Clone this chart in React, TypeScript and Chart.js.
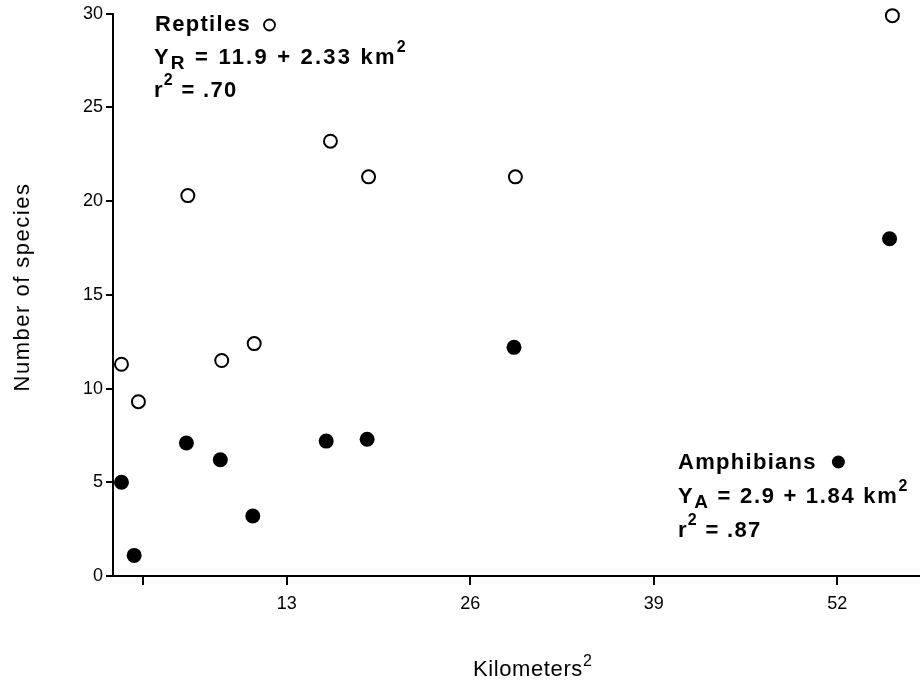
import { useEffect, useRef } from 'react';
import { Chart, registerables } from 'chart.js';

Chart.register(...registerables);

// ---- data ----
const reptileArea = [1.3, 2.5, 6.0, 8.4, 10.7, 16.1, 18.8, 29.2, 55.9];
const reptileSpecies = [11.3, 9.3, 20.3, 11.5, 12.4, 23.2, 21.3, 21.3, 29.9];
const amphibianArea = [1.3, 2.2, 5.9, 8.3, 10.6, 15.8, 18.7, 29.1, 55.7];
const amphibianSpecies = [5.0, 1.1, 7.1, 6.2, 3.2, 7.2, 7.3, 12.2, 18.0];

const xTickValues = [2.8, 13, 26, 39, 52];
const xTickLabels = ['', '13', '26', '39', '52'];
const yTickValues = [0, 5, 10, 15, 20, 25, 30];

const xAxisTitle = 'Kilometers';
const yAxisTitle = 'Number of species';
const reptileLines = { name: 'Reptiles', sub: 'R', eq: ' = 11.9 + 2.33 km', r2: ' = .70' };
const amphibianLines = { name: 'Amphibians', sub: 'A', eq: ' = 2.9 + 1.84 km', r2: ' = .87' };

const FONT = '"Liberation Sans", Arial, Helvetica, sans-serif';

type Run = { text: string; size: number; dy: number };

function drawRuns(ctx: CanvasRenderingContext2D, x: number, baseline: number, runs: Run[], weight: string) {
  let cx = x;
  for (const r of runs) {
    ctx.font = `${weight} ${r.size}px ${FONT}`;
    ctx.fillText(r.text, cx, baseline + r.dy);
    cx += ctx.measureText(r.text).width;
  }
  return cx;
}

const annotationPlugin = {
  id: 'annotations',
  afterDraw(chart: any) {
    const ctx: CanvasRenderingContext2D = chart.ctx;
    ctx.save();
    ctx.fillStyle = '#000';
    ctx.strokeStyle = '#000';
    ctx.textAlign = 'left';
    ctx.textBaseline = 'alphabetic';

    // Reptiles block
    {
      const x = 155;
      (ctx as any).letterSpacing = '1.3px';
      const end = drawRuns(ctx, x, 31, [{ text: reptileLines.name, size: 22, dy: 0 }], 'bold');
      ctx.beginPath();
      ctx.lineWidth = 1.8;
      ctx.arc(end + 13 + 5.5, 25, 5.5, 0, Math.PI * 2);
      ctx.stroke();
      (ctx as any).letterSpacing = '2.2px';
      drawRuns(ctx, x - 1, 64, [
        { text: 'Y', size: 22, dy: 0 },
        { text: reptileLines.sub, size: 19, dy: 5 },
        { text: reptileLines.eq, size: 22, dy: 0 },
        { text: '2', size: 16, dy: -12 },
      ], 'bold');
      (ctx as any).letterSpacing = '1.3px';
      drawRuns(ctx, x - 1, 97, [
        { text: 'r', size: 22, dy: 0 },
        { text: '2', size: 16, dy: -12 },
        { text: reptileLines.r2, size: 22, dy: 0 },
      ], 'bold');
    }

    // Amphibians block
    {
      const x = 678;
      (ctx as any).letterSpacing = '1.3px';
      const end = drawRuns(ctx, x, 469, [{ text: amphibianLines.name, size: 22, dy: 0 }], 'bold');
      ctx.beginPath();
      ctx.arc(end + 15 + 6.5, 462, 6.5, 0, Math.PI * 2);
      ctx.fill();
      (ctx as any).letterSpacing = '1.7px';
      drawRuns(ctx, x, 503, [
        { text: 'Y', size: 22, dy: 0 },
        { text: amphibianLines.sub, size: 19, dy: 5 },
        { text: amphibianLines.eq, size: 22, dy: 0 },
        { text: '2', size: 16, dy: -12 },
      ], 'bold');
      (ctx as any).letterSpacing = '1.3px';
      drawRuns(ctx, x, 537, [
        { text: 'r', size: 22, dy: 0 },
        { text: '2', size: 16, dy: -12 },
        { text: amphibianLines.r2, size: 22, dy: 0 },
      ], 'bold');
    }

    // Axis titles
    (ctx as any).letterSpacing = '0.6px';
    drawRuns(ctx, 473, 676, [
      { text: xAxisTitle, size: 22, dy: 0 },
      { text: '2', size: 16, dy: -10 },
    ], 'normal');

    (ctx as any).letterSpacing = '1.5px';
    ctx.translate(29, 287);
    ctx.rotate(-Math.PI / 2);
    ctx.textAlign = 'center';
    ctx.font = `normal 22px ${FONT}`;
    ctx.fillText(yAxisTitle, 0, 0);
    ctx.restore();
  },
};

export default function App() {
  const canvasRef = useRef<HTMLCanvasElement | null>(null);

  useEffect(() => {
    if (!canvasRef.current) return;
    const chart = new Chart(canvasRef.current, {
      type: 'scatter',
      data: {
        datasets: [
          {
            label: 'Amphibians',
            data: amphibianArea.map((x, i) => ({ x, y: amphibianSpecies[i] })),
            pointStyle: 'circle',
            pointRadius: 7.5,
            pointHoverRadius: 7.5,
            backgroundColor: '#000',
            borderColor: '#000',
            borderWidth: 0,
            clip: false,
          },
          {
            label: 'Reptiles',
            data: reptileArea.map((x, i) => ({ x, y: reptileSpecies[i] })),
            pointStyle: 'circle',
            pointRadius: 6.5,
            pointHoverRadius: 6.5,
            backgroundColor: '#fff',
            borderColor: '#000',
            borderWidth: 2,
            clip: false,
          },
        ],
      },
      options: {
        animation: false,
        responsive: false,
        maintainAspectRatio: false,
        devicePixelRatio: 1,
        events: [],
        layout: { padding: { top: 12, right: 0, bottom: 0, left: 0 } },
        plugins: {
          legend: { display: false },
          tooltip: { enabled: false },
          title: { display: false },
        },
        scales: {
          x: {
            type: 'linear',
            min: 0.7,
            max: 57.82,
            afterBuildTicks: (scale: any) => {
              scale.ticks = xTickValues.map((v) => ({ value: v }));
            },
            afterFit: (scale: any) => {
              scale.height = 107;
            },
            ticks: {
              autoSkip: false,
              maxRotation: 0,
              padding: 8,
              color: '#000',
              font: { family: FONT, size: 18 },
              callback: (v: any) => {
                const i = xTickValues.indexOf(Number(v));
                return i >= 0 ? xTickLabels[i] : '';
              },
            },
            grid: {
              display: true,
              drawOnChartArea: false,
              drawTicks: true,
              tickLength: 9,
              color: '#000',
              lineWidth: 2,
            },
            border: { display: true, color: '#000', width: 2 },
          },
          y: {
            type: 'linear',
            min: 0,
            max: 30,
            afterBuildTicks: (scale: any) => {
              scale.ticks = yTickValues.map((v) => ({ value: v }));
            },
            afterFit: (scale: any) => {
              scale.width = 113;
            },
            ticks: {
              autoSkip: false,
              padding: 3,
              color: '#000',
              font: { family: FONT, size: 18 },
            },
            grid: {
              display: true,
              drawOnChartArea: false,
              drawTicks: true,
              tickLength: 7,
              color: '#000',
              lineWidth: 2,
            },
            border: { display: true, color: '#000', width: 2 },
          },
        },
      },
      plugins: [annotationPlugin],
    });
    return () => chart.destroy();
  }, []);

  return (
    <div style={{ position: 'fixed', left: 0, top: 0, width: 920, height: 683, overflow: 'hidden', background: '#fff' }}>
      <canvas ref={canvasRef} width={928} height={683} style={{ display: 'block', width: 928, height: 683 }} />
    </div>
  );
}
